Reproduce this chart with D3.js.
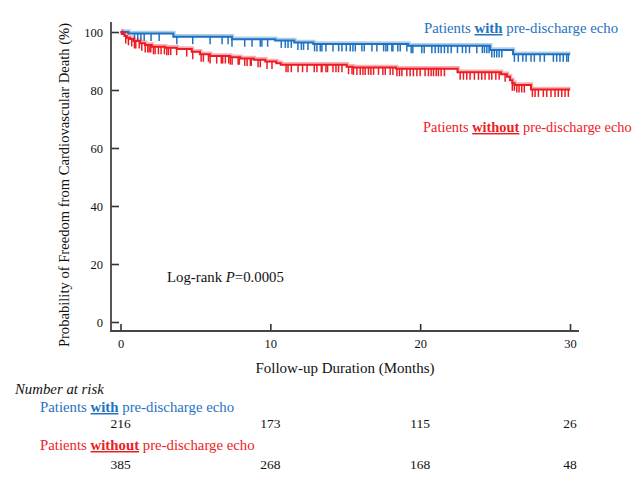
<!DOCTYPE html>
<html>
<head>
<meta charset="utf-8">
<script src="https://cdn.jsdelivr.net/npm/d3@7"></script>
<style>
  body { margin: 0; background: #fff; }
  text { font-family: "Liberation Serif", "Times New Roman", serif; }
</style>
</head>
<body>
<svg class="km"></svg>
<script>
// Kaplan-Meier steps: [month, % free of CV death]
const withSteps = [[0,100],[0.53,99.5],[3.53,98.4],[7.44,97.5],[10.33,97.1],[11.6,96.4],[12.87,95.9],[19.2,95.3],[24.67,93.8],[26.2,92.3],[30,92.3]];
const withoutSteps = [[0,100],[0.09,99.3],[0.27,98.6],[0.42,98.0],[0.64,97.6],[0.87,96.9],[1.31,96.1],[1.64,95.5],[2.09,94.9],[2.98,94.6],[3.76,94.1],[4.76,93.2],[5.31,92.3],[5.98,91.7],[7.33,91.3],[8.0,90.9],[8.9,90.4],[9.67,89.8],[10.4,89.2],[10.7,88.7],[15.1,88.0],[15.5,87.8],[18.4,87.3],[22.5,86.1],[25.4,85.4],[25.8,84.6],[26.0,83.4],[26.15,82.3],[26.3,81.7],[27.4,80.2],[30,80.2]];

// censored times (months)
const withCensor = [0.93,1.15,1.36,1.58,2.04,2.58,3.76,4.82,5.98,6.78,7.18,7.44,8.29,8.78,9.33,9.44,9.82,10.73,11.0,11.18,11.4,11.84,12.07,12.22,12.51,12.95,13.11,13.33,13.44,13.71,14.18,14.56,14.78,15.07,15.33,15.51,15.67,16.11,16.27,16.78,17.11,17.56,17.71,17.82,18.11,18.18,18.51,18.67,19.11,19.4,19.51,20.11,20.27,20.78,21.0,21.22,21.4,21.62,21.85,22.07,22.49,22.82,23.05,23.29,23.78,24.15,24.29,24.45,24.6,24.78,24.95,25.11,25.27,25.45,26.29,26.55,26.85,27.07,27.4,27.62,28.0,28.29,28.89,29.11,29.33,29.55,29.78,29.89];
const withoutCensor = [0.35,0.53,0.75,0.93,1.02,1.25,1.42,1.65,1.82,1.91,2.02,2.2,2.31,2.53,2.71,2.93,3.09,3.2,3.35,3.75,4.42,4.82,5.38,5.53,5.87,5.98,6.42,6.73,6.82,7.0,7.22,7.33,7.45,7.85,7.93,8.29,8.45,8.67,8.73,9.18,9.33,9.78,10.11,11.05,11.18,11.4,11.85,12.15,12.45,12.93,13.11,13.4,13.45,13.71,13.82,14.18,14.38,14.55,14.78,15.22,15.45,15.55,15.78,16.0,16.18,16.33,16.55,16.71,16.89,17.22,17.51,17.67,18.0,18.18,18.45,18.62,18.78,19.11,19.33,19.55,19.78,20.0,20.33,20.55,20.73,20.89,21.07,21.22,21.4,21.62,22.67,22.89,23.11,23.33,23.62,23.89,24.11,24.33,24.6,24.78,25.05,25.27,25.67,26.15,26.29,26.45,26.6,26.78,26.95,27.49,27.67,27.89,28.22,28.45,28.73,29.0,29.22,29.45,29.67,29.89];

const xTicks = [0, 10, 20, 30];
const yTicks = [0, 20, 40, 60, 80, 100];
const riskTimes = [0, 10, 20, 30];
const withRisk = [216, 173, 115, 26];
const withoutRisk = [385, 268, 168, 48];

const blue = "#1f72c1", red = "#ed1c24";

const width = 637, height = 488;
const svg = d3.select(".km").attr("width", width).attr("height", height);

const x = d3.scaleLinear().domain([0, 30]).range([120.5, 570]);
const y = d3.scaleLinear().domain([0, 100]).range([322, 32]);

// axes
svg.append("g").attr("transform", "translate(111,0)")
  .call(d3.axisLeft(y).tickValues(yTicks).tickSize(-8).tickPadding(8))
  .call(g => g.select(".domain").remove())
  .call(g => g.selectAll("line").attr("stroke", "#333").attr("stroke-width", 1.6))
  .call(g => g.selectAll("text").attr("font-size", 12.5).attr("fill", "#111")
    .style("font-family", "Liberation Serif"));
svg.append("g").attr("transform", "translate(0,331)")
  .call(d3.axisBottom(x).tickValues(xTicks).tickSize(-7).tickPadding(8))
  .call(g => g.select(".domain").remove())
  .call(g => g.selectAll("line").attr("stroke", "#333").attr("stroke-width", 1.6))
  .call(g => g.selectAll("text").attr("font-size", 12.5).attr("fill", "#111")
    .style("font-family", "Liberation Serif"));
svg.append("line").attr("x1", 111).attr("x2", 111).attr("y1", 22).attr("y2", 332)
  .attr("stroke", "#444").attr("stroke-width", 1.8);
svg.append("line").attr("x1", 110).attr("x2", 579).attr("y1", 331).attr("y2", 331)
  .attr("stroke", "#444").attr("stroke-width", 1.8);

// axis titles
svg.append("text").attr("x", 345).attr("y", 373).attr("text-anchor", "middle")
  .attr("font-size", 15).attr("fill", "#111").text("Follow-up Duration (Months)");
svg.append("text").attr("transform", "translate(69,185) rotate(-90)").attr("text-anchor", "middle")
  .attr("font-size", 14.6).attr("fill", "#111").text("Probability of Freedom from Cardiovascular Death (%)");

// curves
const line = d3.line().x(d => x(d[0])).y(d => y(d[1])).curve(d3.curveStepAfter);
const valueAt = (steps, t) => steps[d3.bisector(d => d[0]).right(steps, t) - 1][1];

function drawCurve(steps, censor, color) {
  const g = svg.append("g");
  g.append("path").attr("d", line(steps)).attr("fill", "none").attr("stroke", color)
    .attr("stroke-width", 3.5).attr("opacity", 0.35).attr("transform", "translate(0.5,-1)");
  g.append("path").attr("d", line(steps)).attr("fill", "none").attr("stroke", color)
    .attr("stroke-width", 2);
  g.selectAll(".c").data(censor).join("line")
    .attr("x1", d => x(d)).attr("x2", d => x(d))
    .attr("y1", d => y(valueAt(steps, d))).attr("y2", d => y(valueAt(steps, d)) + 7.5)
    .attr("stroke", color).attr("stroke-width", 1.5);
}
drawCurve(withSteps, withCensor, blue);
drawCurve(withoutSteps, withoutCensor, red);

// legend-style labels
function groupLabel(sel, word, color) {
  sel.attr("fill", color);
  sel.append("tspan").text("Patients ");
  sel.append("tspan").attr("font-weight", "bold").attr("text-decoration", "underline").text(word);
  sel.append("tspan").text(" pre-discharge echo");
}
groupLabel(svg.append("text").attr("x", 424).attr("y", 33).attr("font-size", 14.8), "with", blue);
groupLabel(svg.append("text").attr("x", 423).attr("y", 132).attr("font-size", 14.4), "without", red);

const lr = svg.append("text").attr("x", 167).attr("y", 282).attr("font-size", 14.8).attr("fill", "#111");
lr.append("tspan").text("Log-rank ");
lr.append("tspan").attr("font-style", "italic").text("P");
lr.append("tspan").text("=0.0005");

// number at risk table
svg.append("text").attr("x", 15).attr("y", 394).attr("font-size", 14.8).attr("font-style", "italic")
  .attr("fill", "#111").text("Number at risk");
groupLabel(svg.append("text").attr("x", 40).attr("y", 412).attr("font-size", 14.8), "with", blue);
groupLabel(svg.append("text").attr("x", 40).attr("y", 450).attr("font-size", 14.8), "without", red);
svg.append("g").selectAll("text").data(withRisk).join("text")
  .attr("x", (d, i) => x(riskTimes[i])).attr("y", 428).attr("text-anchor", "middle")
  .attr("font-size", 13.5).attr("fill", "#111").text(d => d);
svg.append("g").selectAll("text").data(withoutRisk).join("text")
  .attr("x", (d, i) => x(riskTimes[i])).attr("y", 469).attr("text-anchor", "middle")
  .attr("font-size", 13.5).attr("fill", "#111").text(d => d);
</script>
</body>
</html>
